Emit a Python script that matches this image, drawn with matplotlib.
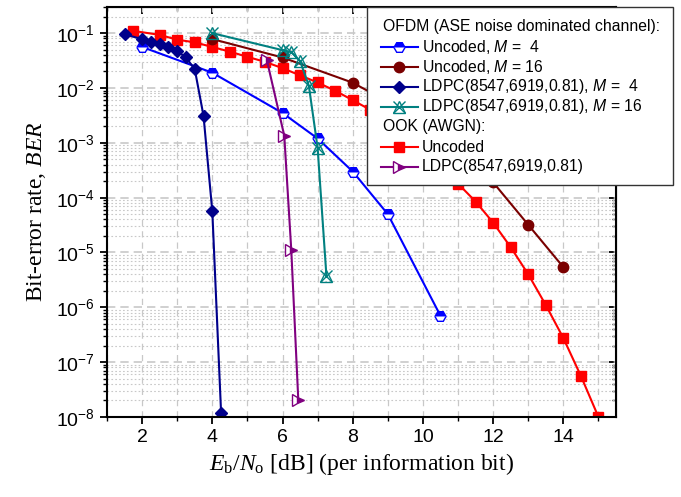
import matplotlib
matplotlib.use('Agg')
import matplotlib.pyplot as plt
from matplotlib.lines import Line2D
from matplotlib.patches import Rectangle
import numpy as np

plt.rcParams['font.family'] = ['Liberation Sans', 'DejaVu Sans']
plt.rcParams['mathtext.fontset'] = 'custom'
plt.rcParams['mathtext.rm'] = 'Liberation Serif'
plt.rcParams['mathtext.it'] = 'Liberation Serif:italic'
plt.rcParams['mathtext.sf'] = 'Liberation Sans:italic'

# OFDM, uncoded, M = 4
unc4_x = [2, 4, 6, 7, 8, 9, 10.5]
unc4_y = [5.6e-2, 1.9e-2, 3.5e-3, 1.2e-3, 3.0e-4, 5.0e-5, 7.0e-7]
# OFDM, uncoded, M = 16
unc16_x = [4, 6, 8, 10, 12, 13, 14]
unc16_y = [7.8e-2, 3.6e-2, 1.25e-2, 2.5e-3, 1.9e-4, 3.2e-5, 5.4e-6]
# OFDM, LDPC, M = 4
ldpc4_x = [1.5, 2.0, 2.25, 2.5, 2.75, 3.0, 3.25, 3.5, 3.75, 4.0, 4.25]
ldpc4_y = [9.5e-2, 7.8e-2, 6.9e-2, 6.3e-2, 5.6e-2, 4.7e-2, 3.6e-2, 2.2e-2, 3.1e-3, 5.6e-5, 1.2e-8]
# OFDM, LDPC, M = 16
ldpc16_x = [4.0, 6.0, 6.25, 6.5, 6.75, 7.0, 7.25]
ldpc16_y = [1.0e-1, 4.9e-2, 4.5e-2, 3.1e-2, 1.1e-2, 8.1e-4, 3.8e-6]
# OOK, uncoded
ook_x = [1.75, 2.5, 3.0, 3.5, 4.0, 4.5, 5.0, 5.5, 6.0, 6.5, 7.0, 7.5, 8.0, 8.5,
         9.0, 9.5, 10.0, 10.5, 11.0, 11.5, 12.0, 12.5, 13.0, 13.5, 14.0, 14.5, 15.0]
ook_y = [1.1e-1, 9.3e-2, 7.6e-2, 6.8e-2, 5.6e-2, 4.6e-2, 3.7e-2, 3.0e-2, 2.3e-2, 1.7e-2,
         1.26e-2, 8.9e-3, 6.0e-3, 4.0e-3, 2.5e-3, 1.5e-3, 8.5e-4, 4.2e-4, 1.8e-4, 8.5e-5,
         3.5e-5, 1.25e-5, 4.0e-6, 1.1e-6, 2.75e-7, 5.6e-8, 1.0e-8]
# OOK, LDPC
ldpc_ook_x = [5.55, 6.05, 6.25, 6.45]
ldpc_ook_y = [3.3e-2, 1.35e-3, 1.1e-5, 2.0e-8]

xticks = [2, 4, 6, 8, 10, 12, 14]
yticks = [1e-1, 1e-2, 1e-3, 1e-4, 1e-5, 1e-6, 1e-7, 1e-8]
ytick_labels = [r'$\mathregular{10^{-%d}}$' % k for k in range(1, 9)]

styles = {
    'unc4': dict(color='#0000ff', marker='H', ms=8, fillstyle='top', mfc='#0000ff',
                 mfcalt='white', mec='#0000ff', lw=1.5),
    'unc16': dict(color='#7a0000', marker='o', ms=7.5, mfc='#7a0000', mec='#7a0000', lw=1.5),
    'ldpc4': dict(color='#00008b', marker='D', ms=6.5, mfc='#00008b', mec='#00008b', lw=1.5),
    'ldpc16': dict(color='#008080', marker='x', ms=9, mew=1.0, lw=1.5),
    'ook': dict(color='#ff0000', marker='s', ms=6.5, mfc='#ff0000', mec='#ff0000', lw=1.5),
    'ldpc_ook': dict(color='#800080', marker='>', ms=8, fillstyle='right', mfc='#800080',
                     mfcalt='white', mec='#800080', lw=1.5),
}
tri16 = dict(color='#008080', marker='^', ms=9, mfc='none', mec='#008080', mew=1.0, ls='none')

fig = plt.figure(figsize=(6.81, 4.97), dpi=100)
ax = fig.add_axes([107 / 681, 1 - 417 / 497, 509 / 681, 410 / 497])

ax.plot(ook_x, ook_y, **styles['ook'])
ax.plot(unc16_x, unc16_y, **styles['unc16'])
ax.plot(unc4_x, unc4_y, **styles['unc4'])
ax.plot(ldpc4_x, ldpc4_y, **styles['ldpc4'])
ax.plot(ldpc16_x, ldpc16_y, **styles['ldpc16'])
ax.plot(ldpc16_x, ldpc16_y, **tri16)
ax.plot(ldpc_ook_x, ldpc_ook_y, **styles['ldpc_ook'])

ax.set_yscale('log')
ax.set_xlim(1.12, 15.5)
ax.set_ylim(1e-8, 0.3)
ax.set_xticks(xticks)
ax.set_xticks(np.arange(1, 16, 1), minor=True)
ax.set_yticks(yticks)
ax.set_yticklabels(ytick_labels)
ax.yaxis.set_minor_locator(matplotlib.ticker.LogLocator(base=10, subs=np.arange(2, 10)))
ax.yaxis.set_minor_formatter(matplotlib.ticker.NullFormatter())

ax.xaxis.grid(True, which='both', ls=(0, (5, 4)), color='#c8c8c8', lw=0.9)
ax.yaxis.grid(True, which='major', ls=(0, (5, 3)), color='#c8c8c8', lw=1.2)
ax.yaxis.grid(True, which='minor', ls=(0, (1.5, 2)), color='#c8c8c8', lw=0.8)
ax.set_axisbelow(True)

ax.tick_params(which='major', direction='out', length=5, width=1.3, labelsize=14)
ax.tick_params(which='minor', direction='out', length=3, width=1.0)
for s in ax.spines.values():
    s.set_linewidth(1.5)

top = ax.secondary_xaxis('top')
top.set_xticks(xticks)
top.set_xticks(np.arange(1, 16, 1), minor=True)
top.tick_params(which='major', direction='in', length=5, width=1.3, labeltop=False)
top.tick_params(which='minor', direction='in', length=3, width=1.0)
right = ax.secondary_yaxis('right')
right.set_yticks(yticks)
right.yaxis.set_minor_locator(matplotlib.ticker.LogLocator(base=10, subs=np.arange(2, 10)))
right.tick_params(which='major', direction='in', length=5, width=1.3, labelright=False)
right.tick_params(which='minor', direction='in', length=3, width=1.0, labelright=False)
right.yaxis.set_minor_formatter(matplotlib.ticker.NullFormatter())

ax.set_xlabel(r'$E_\mathrm{b}/N_\mathrm{o}$ [dB] (per information bit)',
              family='Liberation Serif', fontsize=17, labelpad=4)
ax.set_ylabel(r'Bit-error rate, $BER$', family='Liberation Serif', fontsize=17, labelpad=6)

# legend box (drawn by hand so the group headers sit flush left)
def fx(px):
    return px / 681

def fy(py):
    return 1 - py / 497

fig.add_artist(Rectangle((fx(367), fy(185)), fx(673) - fx(367), fy(7) - fy(185),
                         transform=fig.transFigure, facecolor='white', edgecolor='#333333',
                         lw=1.0, zorder=10))
legend_rows = [
    (None, 'OFDM (ASE noise dominated channel):'),
    ('unc4', r'Uncoded, $\mathsf{M}$ =  4'),
    ('unc16', r'Uncoded, $\mathsf{M}$ = 16'),
    ('ldpc4', r'LDPC(8547,6919,0.81), $\mathsf{M}$ =  4'),
    ('ldpc16', r'LDPC(8547,6919,0.81), $\mathsf{M}$ = 16'),
    (None, 'OOK (AWGN):'),
    ('ook', 'Uncoded'),
    ('ldpc_ook', 'LDPC(8547,6919,0.81)'),
]
legend_fs = 11.3
row_y = 27
for key, label in legend_rows:
    if key is None:
        fig.text(fx(383), fy(row_y), label, fontsize=legend_fs, va='center', ha='left', zorder=11)
    else:
        st = dict(styles[key])
        fig.add_artist(Line2D([fx(381), fx(399), fx(418)], [fy(row_y)] * 3,
                              transform=fig.transFigure, zorder=11, markevery=[1], **st))
        if key == 'ldpc16':
            fig.add_artist(Line2D([fx(399)], [fy(row_y)], transform=fig.transFigure,
                                  zorder=11, **tri16))
        fig.text(fx(422), fy(row_y), label, fontsize=legend_fs, va='center', ha='left', zorder=11)
    row_y += 20

fig.savefig('out.png', dpi=100)
